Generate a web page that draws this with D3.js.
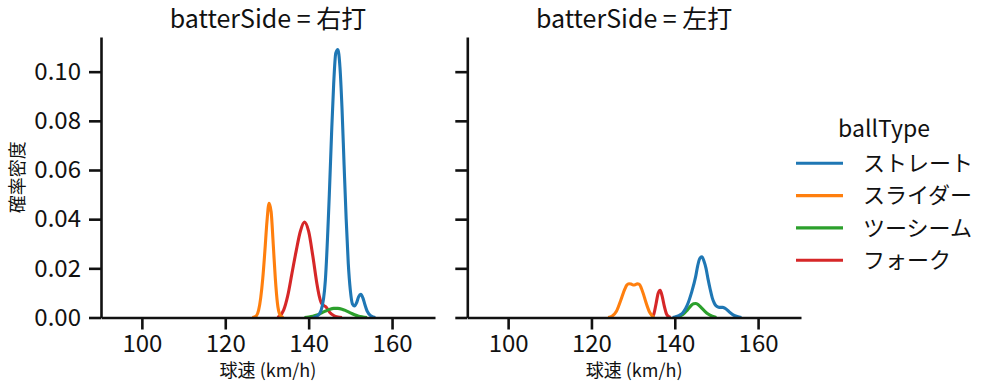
<!DOCTYPE html>
<html>
<head>
<meta charset="utf-8">
<script src="https://cdn.jsdelivr.net/npm/d3@7"></script>
<style>
  body { margin: 0; background: #fff; }
  svg text { font-family: "Noto Sans CJK JP", "Noto Sans", sans-serif; fill: #111; }
</style>
</head>
<body>
<svg id="svgid" width="995" height="391"></svg>
<script>
// ballType order and colours (seaborn tab10)
var ballTypes = ["ストレート", "スライダー", "ツーシーム", "フォーク"];
var colors = ["#1f77b4", "#ff7f0e", "#2ca02c", "#d62728"];
var sides = ["右打", "左打"];
var xTicks = [100, 120, 140, 160];
var yTicks = [0, 0.02, 0.04, 0.06, 0.08, 0.10];

// KDE curves: [speed, density]
var rightStraight = [[141,0],[142,0.0005],[143,0.003],[144,0.015],[145,0.052],[145.5,0.075],[146,0.095],[146.5,0.1075],[147,0.109],[147.5,0.102],[148,0.085],[148.5,0.062],[149,0.040],[149.5,0.022],[150,0.011],[150.5,0.0055],[151,0.0047],[151.5,0.006],[152,0.0085],[152.5,0.0094],[153,0.008],[153.5,0.0052],[154,0.0027],[155,0.0006],[156,0]];
var rightSlider = [[126.5,0],[127.5,0.0008],[128,0.003],[128.5,0.008],[129,0.016],[129.5,0.027],[130,0.039],[130.5,0.0465],[131,0.043],[131.5,0.030],[132,0.016],[132.5,0.006],[133,0.0015],[133.5,0.0003],[134,0]];
var rightTwoSeam = [[139,0],[140,0.0002],[141,0.0005],[142,0.001],[143,0.0018],[144,0.0026],[145,0.0033],[146,0.0037],[147,0.0037],[148,0.0034],[149,0.0027],[150,0.0019],[151,0.0011],[152,0.0005],[153,0.0002],[154,0]];
var rightFork = [[132.5,0],[133,0.0005],[134,0.003],[135,0.009],[136,0.018],[137,0.027],[138,0.035],[139,0.0388],[140,0.035],[141,0.025],[142,0.0135],[142.5,0.009],[143,0.006],[143.5,0.005],[144,0.0045],[144.5,0.0035],[145,0.0022],[146,0.0008],[147,0.0002],[148,0]];

var leftStraight = [[139.5,0],[140,0.0002],[141,0.0008],[142,0.002],[143,0.005],[144,0.010],[145,0.0165],[145.5,0.021],[146,0.024],[146.5,0.0247],[147,0.023],[147.5,0.020],[148,0.0155],[148.5,0.0115],[149,0.008],[149.5,0.0058],[150,0.0046],[150.5,0.0042],[151,0.0041],[151.5,0.0041],[152,0.0038],[152.5,0.0032],[153,0.0024],[154,0.0011],[155,0.0004],[156,0]];
var leftSlider = [[124,0],[125,0.0006],[126,0.0025],[127,0.0068],[128,0.0115],[128.5,0.0132],[129,0.0137],[129.5,0.0136],[130,0.0132],[130.5,0.0133],[131,0.0137],[131.5,0.0135],[132,0.0118],[132.5,0.0094],[133,0.0066],[134,0.002],[134.5,0.0008],[135,0]];
var leftTwoSeam = [[140,0],[141,0.0004],[142,0.0013],[143,0.003],[144,0.005],[144.5,0.0056],[145,0.0057],[145.5,0.0054],[146,0.0046],[147,0.0029],[148,0.0014],[149,0.0005],[150,0]];
var leftFork = [[134.5,0],[135,0.0015],[135.5,0.0055],[136,0.0098],[136.5,0.0111],[137,0.0085],[137.5,0.0045],[138,0.0015],[138.5,0.0004],[139,0]];

var curves = [
    [rightStraight, rightSlider, rightTwoSeam, rightFork],
    [leftStraight, leftSlider, leftTwoSeam, leftFork]
];

var svg = d3.select("svg"),
    panels = [{ left: 101, right: 435 }, { left: 467.3, right: 801 }],
    plotTop = 37,
    plotBottom = 317.5;

var y = d3.scaleLinear().domain([0, 0.1141]).range([plotBottom, plotTop]);

panels.forEach(function (p, i) {
    var x = d3.scaleLinear().domain([90.2, 170.3]).range([p.left, p.right]);
    var g = svg.append("g");

    // curves, first hue on top (seaborn draws reversed)
    var line = d3.line()
        .x(function (d) { return x(d[0]); })
        .y(function (d) { return y(d[1]); })
        .curve(d3.curveMonotoneX);
    for (var k = ballTypes.length - 1; k >= 0; --k) {
        g.append("path")
            .attr("d", line(curves[i][k]))
            .attr("fill", "none")
            .attr("stroke", colors[k])
            .attr("stroke-width", 3.1)
            .attr("stroke-linejoin", "round");
    }

    var xAxis = d3.axisBottom(x).tickValues(xTicks).tickSize(12).tickPadding(5).tickSizeOuter(0);
    var yAxis = d3.axisLeft(y).tickValues(yTicks).tickSize(12).tickPadding(8).tickSizeOuter(0)
        .tickFormat(i === 0 ? d3.format(".2f") : function () { return ""; });

    var gx = g.append("g").attr("transform", "translate(0," + plotBottom + ")").call(xAxis);
    var gy = g.append("g").attr("transform", "translate(" + p.left + ",0)").call(yAxis);
    [gx, gy].forEach(function (a) {
        a.select(".domain").attr("stroke", "#111").attr("stroke-width", 2.6);
        a.selectAll(".tick line").attr("stroke", "#111").attr("stroke-width", 2.6);
        a.selectAll(".tick text").attr("font-size", 24).attr("fill", "#111")
            .style("font-family", '"Noto Sans CJK JP", sans-serif');
    });

    var cx = (p.left + p.right) / 2;
    g.append("text")
        .attr("x", cx).attr("y", 28)
        .attr("text-anchor", "middle")
        .attr("font-size", 25)
        .text("batterSide = " + sides[i]);

    g.append("text")
        .attr("x", cx).attr("y", 377)
        .attr("text-anchor", "middle")
        .attr("font-size", 18)
        .text("球速 (km/h)");
});

svg.append("text")
    .attr("transform", "translate(24," + ((plotTop + plotBottom) / 2) + ") rotate(-90)")
    .attr("text-anchor", "middle")
    .attr("font-size", 18)
    .text("確率密度");

// legend
var legend = svg.append("g");
legend.append("text")
    .attr("x", 884).attr("y", 137)
    .attr("text-anchor", "middle")
    .attr("font-size", 23)
    .text("ballType");
ballTypes.forEach(function (name, k) {
    var ly = 163.3 + k * 32.3;
    legend.append("line")
        .attr("x1", 796).attr("x2", 843)
        .attr("y1", ly).attr("y2", ly)
        .attr("stroke", colors[k]).attr("stroke-width", 3.1);
    legend.append("text")
        .attr("x", 863).attr("y", ly)
        .attr("dy", "0.35em")
        .attr("font-size", 22)
        .text(name);
});
</script>
</body>
</html>
